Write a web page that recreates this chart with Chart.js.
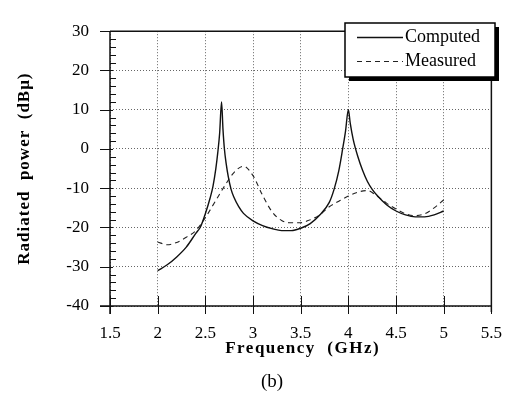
<!DOCTYPE html>
<html>
<head>
<meta charset="utf-8">
<script src="https://cdn.jsdelivr.net/npm/chart.js@4/dist/chart.umd.min.js"></script>
<style>
  html, body { margin: 0; padding: 0; background: #fff; }
  #wrap { width: 519px; height: 394px; }
</style>
</head>
<body>
<div id="wrap"><canvas id="radiated-chart" width="519" height="394"></canvas></div>
<script>
// frequency (GHz) / radiated power (dBµ)
const computedFreq = [2.0, 2.1, 2.2, 2.3, 2.4, 2.45, 2.5, 2.55, 2.58, 2.61, 2.63, 2.65, 2.67, 2.685, 2.70, 2.72, 2.74, 2.77, 2.8, 2.85, 2.9, 3.0, 3.1, 3.2, 3.3, 3.4, 3.5, 3.6, 3.7, 3.8, 3.85, 3.9, 3.94, 3.97, 4.0, 4.02, 4.05, 4.1, 4.15, 4.2, 4.25, 4.3, 4.4, 4.5, 4.6, 4.7, 4.8, 4.9, 5.0];
const computedPower = [-31, -29.5, -27.5, -25, -21.5, -19.8, -16.5, -12.5, -9.5, -5, -1, 4, 12, 5, 0, -4, -7, -10.3, -12.3, -14.7, -16.4, -18.3, -19.5, -20.3, -20.8, -20.8, -20.2, -19, -16.8, -13.6, -10.3, -5.5, 0, 4.5, 10, 6.5, 2.5, -2, -5.5, -8.3, -10.3, -11.8, -14.2, -15.8, -16.8, -17.3, -17.3, -16.8, -15.8];

const measuredFreq = [2.0, 2.1, 2.2, 2.3, 2.4, 2.5, 2.6, 2.7, 2.8, 2.9, 3.0, 3.1, 3.2, 3.3, 3.4, 3.5, 3.6, 3.7, 3.8, 3.9, 4.0, 4.1, 4.2, 4.3, 4.4, 4.5, 4.6, 4.7, 4.8, 4.9, 5.0];
const measuredPower = [-23.7, -24.4, -23.8, -22.5, -20.8, -17.5, -13.5, -9.5, -6, -4.4, -6.8, -11.8, -16, -18.2, -18.8, -18.8, -18, -16.8, -14.7, -13.3, -12, -11, -10.6, -12, -13.8, -15.3, -16.5, -17, -16.5, -15, -13];

const xTicks = [1.5, 2, 2.5, 3, 3.5, 4, 4.5, 5, 5.5];
const yTicks = [-40, -30, -20, -10, 0, 10, 20, 30];

const serif = '"Liberation Serif", "Times New Roman", serif';

function toPoints(xs, ys) {
    return xs.map((x, i) => ({ x: x, y: ys[i] }));
}

// frame, tick marks, axis titles, the boxed legend and "(b)"
const paperPlugin = {
    id: 'paper',
    afterDraw(chart) {
        const ctx = chart.ctx;
        const a = chart.chartArea;
        const xs = chart.scales.x;
        const ys = chart.scales.y;
        ctx.save();
        ctx.strokeStyle = '#111';
        ctx.lineWidth = 1.5;
        ctx.setLineDash([]);
        ctx.beginPath();
        ctx.moveTo(a.left, a.top);
        ctx.lineTo(a.right, a.top);
        ctx.lineTo(a.right, a.bottom + 6);
        ctx.moveTo(a.left, a.top);
        ctx.lineTo(a.left, a.bottom + 8);
        ctx.moveTo(a.left - 10, a.bottom);
        ctx.lineTo(a.right, a.bottom);
        ctx.stroke();

        ctx.lineWidth = 1;
        ctx.beginPath();
        yTicks.forEach(v => {
            const py = Math.round(ys.getPixelForValue(v)) + 0.5;
            ctx.moveTo(a.left - 10, py);
            ctx.lineTo(a.left + 3, py);
        });
        for (let v = -40; v < 30; v += 2) {
            if (v % 10 === 0) continue;
            const py = Math.round(ys.getPixelForValue(v)) + 0.5;
            ctx.moveTo(a.left, py);
            ctx.lineTo(a.left + 6, py);
        }
        xTicks.forEach(v => {
            const px = Math.round(xs.getPixelForValue(v)) + 0.5;
            ctx.moveTo(px, a.bottom - 10);
            ctx.lineTo(px, a.bottom + 8);
        });
        ctx.stroke();

        // axis titles
        ctx.fillStyle = '#000';
        ctx.font = 'bold 17px ' + serif;
        ctx.letterSpacing = '1.5px';
        ctx.textAlign = 'center';
        ctx.textBaseline = 'middle';
        ctx.fillText('Frequency  (GHz)', (a.left + a.right) / 2 + 2, 349);
        ctx.letterSpacing = '1px';
        ctx.save();
        ctx.translate(25, (a.top + a.bottom) / 2);
        ctx.rotate(-Math.PI / 2);
        ctx.fillText('Radiated  power  (dB\u03bc)', 0, 0);
        ctx.restore();
        ctx.letterSpacing = '0px';
        ctx.font = '19px ' + serif;
        ctx.fillText('(b)', 272, 382);

        // legend box with drop shadow
        const bx = 345, by = 23, bw = 150, bh = 54;
        ctx.fillStyle = '#000';
        ctx.fillRect(bx + 4, by + 4, bw, bh);
        ctx.fillStyle = '#fff';
        ctx.fillRect(bx, by, bw, bh);
        ctx.strokeStyle = '#000';
        ctx.lineWidth = 1.5;
        ctx.strokeRect(bx, by, bw, bh);
        ctx.font = '18px ' + serif;
        ctx.textAlign = 'left';
        chart.data.datasets.forEach((ds, i) => {
            const ly = 37 + i * 24;
            ctx.strokeStyle = ds.borderColor;
            ctx.lineWidth = ds.borderWidth;
            ctx.setLineDash(ds.borderDash || []);
            ctx.beginPath();
            ctx.moveTo(357, ly + 0.5);
            ctx.lineTo(403, ly + 0.5);
            ctx.stroke();
            ctx.setLineDash([]);
            ctx.fillStyle = '#000';
            ctx.fillText(ds.label, 405, ly);
        });
        ctx.restore();
    }
};

function main() {
    const canvas = document.querySelector('#radiated-chart');
    new Chart(canvas.getContext('2d'), {
        type: 'line',
        data: {
            datasets: [
                {
                    label: 'Computed',
                    data: toPoints(computedFreq, computedPower),
                    borderColor: '#111',
                    borderWidth: 1.4,
                    pointRadius: 0,
                    cubicInterpolationMode: 'monotone',
                    fill: false,
                },
                {
                    label: 'Measured',
                    data: toPoints(measuredFreq, measuredPower),
                    borderColor: '#222',
                    borderWidth: 1.1,
                    borderDash: [5, 4],
                    pointRadius: 0,
                    cubicInterpolationMode: 'monotone',
                    fill: false,
                },
            ]
        },
        options: {
            responsive: false,
            animation: false,
            layout: { padding: { top: 19, right: 12, left: 0, bottom: 0 } },
            plugins: { legend: { display: false }, tooltip: { enabled: false } },
            scales: {
                x: {
                    type: 'linear',
                    min: 1.5,
                    max: 5.5,
                    afterBuildTicks: scale => { scale.ticks = xTicks.map(v => ({ value: v })); },
                    afterFit: scale => { scale.height = 88; },
                    grid: { color: '#666', lineWidth: 1, drawTicks: false },
                    border: { display: false, dash: [1, 2] },
                    ticks: {
                        color: '#000',
                        padding: 17,
                        font: { family: serif, size: 17 },
                        maxRotation: 0,
                        callback: value => String(value),
                    },
                },
                y: {
                    min: -40,
                    max: 30,
                    afterBuildTicks: scale => { scale.ticks = yTicks.map(v => ({ value: v })); },
                    afterFit: scale => { scale.width = 110; },
                    grid: { color: '#666', lineWidth: 1, drawTicks: false },
                    border: { display: false, dash: [1, 2] },
                    ticks: {
                        color: '#000',
                        padding: 21,
                        font: { family: serif, size: 17 },
                        callback: value => String(value),
                    },
                },
            },
        },
        plugins: [paperPlugin],
    });
}

main()
</script>
</body>
</html>
